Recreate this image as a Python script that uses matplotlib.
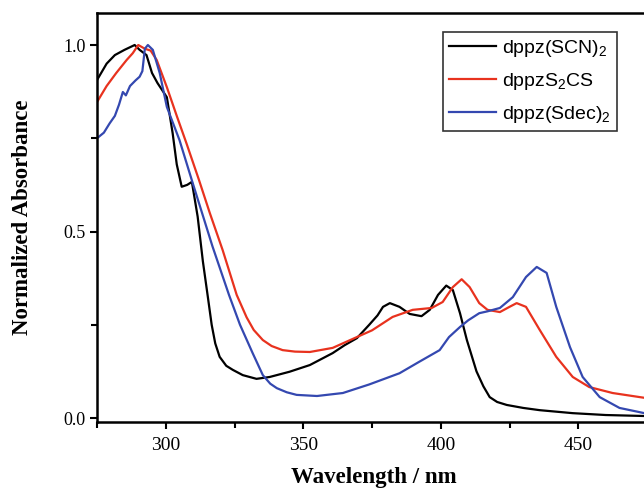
import matplotlib
matplotlib.use("Agg")
import matplotlib.pyplot as plt
from matplotlib.ticker import MultipleLocator

wl_scn = [275, 278.5, 281.5, 285, 288.7, 290.5, 293, 295, 297, 300.4, 302.5, 304,
          305.8, 307.8, 309.5, 311.6, 313.5, 315.3, 316.7, 318, 319.6, 322, 324.4,
          328, 333, 337.8, 345, 352.4, 360.7, 365, 369.5, 374, 377, 379, 381.5, 385,
          388.7, 393, 396, 399, 402, 404.4, 407, 409.5, 413, 415.5, 417.8, 420.5,
          424, 430, 436, 448, 460, 476]
ab_scn = [0.906, 0.95, 0.973, 0.987, 1.0, 0.987, 0.973, 0.925, 0.898, 0.86, 0.764,
          0.68, 0.62, 0.625, 0.633, 0.54, 0.42, 0.325, 0.25, 0.2, 0.164, 0.14, 0.129,
          0.115, 0.105, 0.11, 0.124, 0.142, 0.174, 0.195, 0.214, 0.25, 0.275, 0.298,
          0.308, 0.298, 0.279, 0.273, 0.29, 0.33, 0.355, 0.343, 0.281, 0.209, 0.125,
          0.085, 0.056, 0.043, 0.035, 0.027, 0.021, 0.013, 0.008, 0.005]

wl_s2cs = [275, 278.5, 282, 285.8, 288, 290, 292.4, 294.5, 296.7, 300.4, 304,
           307.6, 312, 316, 320.7, 325.8, 329.4, 332, 335.3, 338.5, 342.5, 347,
           352.4, 360.7, 369.5, 375, 382.5, 389.8, 396.7, 400.7, 404.4, 407.6, 410.5,
           414, 417, 421.5, 425, 427.6, 431, 436, 442, 448, 454, 462.5, 476]
ab_s2cs = [0.847, 0.89, 0.925, 0.96, 0.978, 1.0, 0.99, 0.985, 0.96, 0.887, 0.81,
           0.735, 0.64, 0.55, 0.45, 0.33, 0.27, 0.236, 0.209, 0.193, 0.182, 0.178,
           0.177, 0.188, 0.217, 0.235, 0.271, 0.29, 0.295, 0.311, 0.351, 0.372, 0.351,
           0.308, 0.29, 0.284, 0.298, 0.308, 0.298, 0.236, 0.164, 0.11, 0.083, 0.067,
           0.052]

wl_sdec = [275, 277.5, 279.6, 281.5, 283, 284.4, 285.5, 287, 289, 290.5, 291.5,
           292.4, 293.5, 295.3, 297.8, 300.4, 305, 309.8, 317, 323, 327, 331.6,
           335.3, 338, 340.4, 344, 347.6, 355, 364.4, 374, 385, 392, 399.6, 403, 407,
           410, 414, 417, 421.5, 426.2, 431, 434.9, 438.5, 442, 447, 451.6, 457.8,
           465, 476]
ab_sdec = [0.75, 0.765, 0.79, 0.81, 0.84, 0.874, 0.865, 0.89, 0.905, 0.915, 0.93,
           0.99, 1.0, 0.987, 0.925, 0.834, 0.745, 0.63, 0.46, 0.33, 0.25, 0.174,
           0.115, 0.092, 0.08, 0.069, 0.062, 0.059, 0.067, 0.09, 0.12, 0.15, 0.182,
           0.217, 0.244, 0.262, 0.281, 0.286, 0.295, 0.324, 0.378, 0.405, 0.389,
           0.298, 0.19, 0.11, 0.056, 0.027, 0.01]

labels = ["dppz(SCN)$_2$", "dppzS$_2$CS", "dppz(Sdec)$_2$"]
colors = ["black", "#e8321e", "#3448b0"]

plt.rcParams["font.family"] = "Liberation Serif"
plt.rcParams["mathtext.fontset"] = "custom"
plt.rcParams["mathtext.rm"] = "Liberation Sans"
plt.rcParams["mathtext.it"] = "Liberation Sans:italic"
plt.rcParams["mathtext.bf"] = "Liberation Sans:bold"

fig = plt.figure(figsize=(6.44, 4.92), dpi=100)
ax = fig.add_axes([97 / 644, 70 / 492, 552.75 / 644, 409 / 492])

for wl, ab, lab, c in zip([wl_scn, wl_s2cs, wl_sdec], [ab_scn, ab_s2cs, ab_sdec],
                          labels, colors):
    ax.plot(wl, ab, color=c, lw=1.6, label=lab)

ax.set_xlim(275, 476)
ax.set_ylim(-0.0107, 1.0858)
ax.xaxis.set_major_locator(MultipleLocator(50))
ax.xaxis.set_minor_locator(MultipleLocator(25))
ax.yaxis.set_major_locator(MultipleLocator(0.5))
ax.yaxis.set_minor_locator(MultipleLocator(0.25))
ax.tick_params(which="both", direction="out", width=1.5, labelsize=14, pad=6)
ax.tick_params(which="major", length=5)
ax.tick_params(which="minor", length=4)
ax.tick_params(axis="y", which="major", labelsize=13, pad=3)
ax.yaxis.set_major_formatter(plt.FuncFormatter(lambda v, p: f"{v:.1f}"))
for s in ax.spines.values():
    s.set_linewidth(1.8)

ax.set_xlabel("Wavelength / nm", fontsize=16.5, fontweight="bold", labelpad=9)
ax.set_ylabel("Normalized Absorbance", fontsize=16.5, fontweight="bold", labelpad=22)

leg = ax.legend(loc="upper left", bbox_to_anchor=(0.626, 0.9535), borderaxespad=0,
                prop={"family": "Liberation Sans", "size": 14}, fancybox=False,
                edgecolor="black", handlelength=2.4, handletextpad=0.35,
                labelspacing=0.62, borderpad=0.3)
leg.get_frame().set_linewidth(1.2)

fig.savefig("out.png", dpi=100)
